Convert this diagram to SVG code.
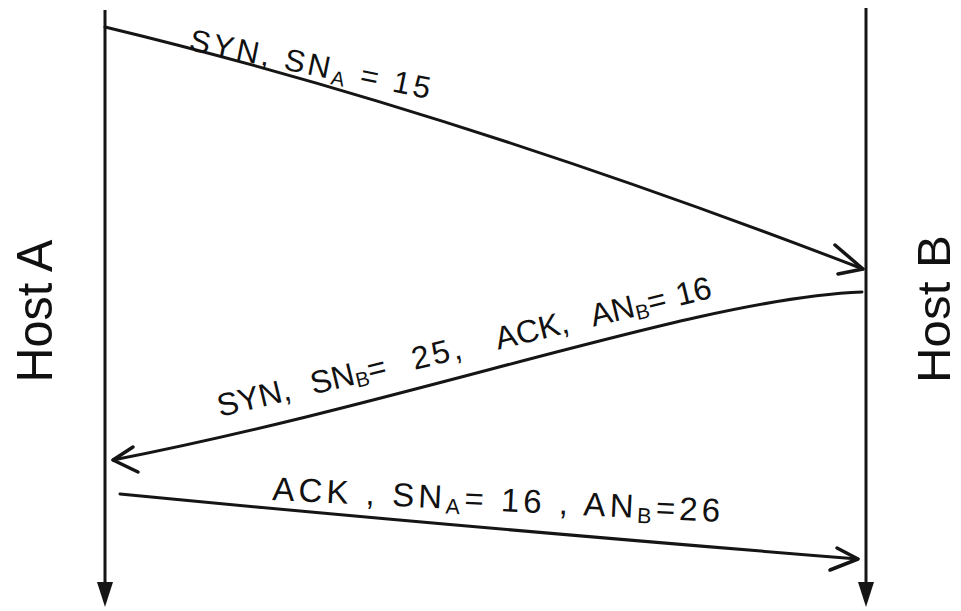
<svg xmlns="http://www.w3.org/2000/svg" width="961" height="611" viewBox="0 0 961 611">
  <style>
    .life { stroke: #151515; stroke-width: 3; fill: none; }
    .msg { stroke: #151515; stroke-width: 3; fill: none; stroke-linecap: round; stroke-linejoin: round; }
    .head { stroke: #151515; stroke-width: 3.5; fill: none; stroke-linecap: round; stroke-linejoin: round; }
    .host { font-family: "Liberation Sans", Arial, sans-serif; font-size: 50px; fill: #111; }
    .lbl { font-family: "Liberation Sans", Arial, sans-serif; fill: #111; }
    .sub { font-size: 0.65em; }
    .tip { fill: #151515; }
  </style>
  <rect width="961" height="611" fill="#ffffff"/>

  <g id="hostA">
    <line class="life" x1="105" y1="10" x2="105" y2="583"/>
    <path class="tip" d="M97,582 L113,582 L105,607 Z"/>
    <text class="host" x="52" y="311" text-anchor="middle" transform="rotate(-90 52 311)" textLength="143" lengthAdjust="spacingAndGlyphs">Host A</text>
  </g>

  <g id="hostB">
    <line class="life" x1="866" y1="8" x2="866" y2="583"/>
    <path class="tip" d="M858,582 L874,582 L866,607 Z"/>
    <text class="host" x="950" y="309" font-size="47" style="font-size:47px" text-anchor="middle" transform="rotate(-90 950 309)" textLength="148" lengthAdjust="spacingAndGlyphs">Host B</text>
  </g>

  <g id="connectors">
    <g id="msg1">
      <path class="msg" d="M105,27 Q450,110 863,269"/>
      <path class="head" d="M835,245 L863,269 L838,274"/>
      <text class="lbl" font-size="31" x="188" y="50" transform="rotate(11.5 188 50)" textLength="245" lengthAdjust="spacing">SYN,  SN<tspan class="sub" dy="5">A</tspan><tspan dy="-5"> = 15</tspan></text>
    </g>
    <g id="msg2">
      <path class="msg" d="M862,292 C700,298 420,400 113,460"/>
      <path class="head" d="M133,447 L113,460 L138,472"/>
      <text class="lbl" font-size="32" transform="rotate(-13.6 220 417)"><tspan x="220" y="417">SYN, </tspan><tspan x="316" y="417">SN</tspan><tspan class="sub" dy="4">B</tspan><tspan y="417">= </tspan><tspan x="420" y="417" letter-spacing="3">25, </tspan><tspan x="506" y="417">ACK, </tspan><tspan x="604" y="417">AN</tspan><tspan class="sub" dy="4">B</tspan><tspan y="417">= </tspan><tspan x="692" y="417">16</tspan></text>
    </g>
    <g id="msg3">
      <path class="msg" d="M120,494 Q450,526 858,559"/>
      <path class="head" d="M837,548 L858,559 L830,570"/>
      <text class="lbl" font-size="33" x="272" y="500" transform="rotate(2.8 272 500)" textLength="448" lengthAdjust="spacing">ACK ,  SN<tspan class="sub" dy="5">A</tspan><tspan dy="-5">= 16 ,  AN</tspan><tspan class="sub" dy="5">B</tspan><tspan dy="-5">=26</tspan></text>
    </g>
  </g>
</svg>
